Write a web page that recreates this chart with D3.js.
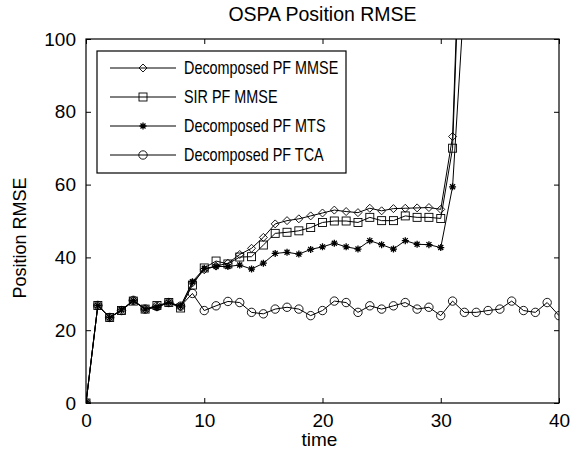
<!DOCTYPE html>
<html>
<head>
<meta charset="utf-8">
<script src="https://cdn.jsdelivr.net/npm/d3@7"></script>
<style>
  html, body { margin: 0; padding: 0; background: #fff; }
  svg { display: block; font-family: "Liberation Sans", Arial, sans-serif; }
</style>
</head>
<body>
<svg id="chart" width="578" height="456"></svg>
<script>
// Time steps and OSPA position RMSE for each filter
const timeSteps = d3.range(0, 41);

const mmseDecomposed = [0, 26.8, 23.5, 25.5, 28.2, 25.8, 26.4, 27.6, 26.5, 33.0, 36.6, 37.6, 38.4, 40.8, 42.5, 45.5, 49.2, 50.1, 50.6, 51.4, 52.2, 53.0, 52.6, 52.3, 53.5, 52.8, 53.4, 53.5, 53.6, 53.7, 53.2, 73.2, 166];
const sirMmse = [0, 26.8, 23.5, 25.4, 28.0, 25.8, 26.8, 27.6, 26.1, 32.4, 37.1, 39.0, 38.2, 40.1, 40.2, 43.4, 46.6, 46.9, 47.3, 48.2, 49.6, 50.0, 50.0, 49.6, 51.0, 50.1, 50.1, 51.4, 51.0, 51.0, 50.7, 70.0, 161];
const mtsDecomposed = [0, 26.8, 23.5, 25.6, 28.1, 25.8, 26.3, 27.6, 26.6, 33.3, 37.0, 37.5, 37.5, 37.9, 36.8, 38.4, 41.1, 41.4, 40.9, 42.2, 42.9, 43.9, 42.9, 42.3, 44.6, 43.5, 42.3, 44.6, 43.6, 43.5, 42.7, 59.4, 112];
const tcaDecomposed = [0, 26.8, 23.5, 25.4, 28.2, 25.8, 26.5, 27.6, 26.6, 30.1, 25.4, 26.7, 27.9, 27.6, 24.9, 24.5, 25.8, 26.3, 25.8, 24.0, 25.4, 28.0, 27.6, 24.9, 26.7, 25.8, 26.7, 27.6, 25.8, 26.3, 24.0, 28.0, 24.9, 24.9, 25.4, 25.8, 28.0, 25.4, 24.9, 27.6, 24.0];

const seriesNames = ["Decomposed PF MMSE", "SIR PF MMSE", "Decomposed PF MTS", "Decomposed PF TCA"];
const seriesMarkers = ["diamond", "square", "star", "circle"];
const seriesValues = [mmseDecomposed, sirMmse, mtsDecomposed, tcaDecomposed];

const xTicks = [0, 10, 20, 30, 40];
const yTicks = [0, 20, 40, 60, 80, 100];

const titleText = "OSPA Position RMSE";
const xLabel = "time";
const yLabel = "Position RMSE";

// Layout
const svg = d3.select("#chart");
const plot = { left: 86, right: 559, top: 39, bottom: 403 };
const legendSquash = 0.8;   // legend entries are set in a narrower face

const x = d3.scaleLinear().domain([0, 40]).range([plot.left, plot.right]);
const y = d3.scaleLinear().domain([0, 100]).range([plot.bottom, plot.top]);

svg.append("defs").append("clipPath").attr("id", "plot-clip")
  .append("rect")
  .attr("x", plot.left).attr("y", plot.top)
  .attr("width", plot.right - plot.left).attr("height", plot.bottom - plot.top);

// Axes: ticks point inward on all four sides (boxed axes)
const tickLen = 5;

svg.append("g")
  .attr("transform", `translate(0,${plot.bottom})`)
  .call(d3.axisBottom(x).tickValues(xTicks).tickSizeInner(-tickLen).tickSizeOuter(0))
  .call(g => g.select(".domain").remove())
  .call(g => g.selectAll(".tick text").attr("y", 24).attr("dy", null));
svg.append("g")
  .attr("transform", `translate(0,${plot.top})`)
  .call(d3.axisTop(x).tickValues(xTicks).tickSizeInner(-tickLen).tickSizeOuter(0).tickFormat(""))
  .call(g => g.select(".domain").remove());
svg.append("g")
  .attr("transform", `translate(${plot.left},0)`)
  .call(d3.axisLeft(y).tickValues(yTicks).tickSizeInner(-tickLen).tickSizeOuter(0))
  .call(g => g.select(".domain").remove())
  .call(g => g.selectAll(".tick text").attr("x", -10));
svg.append("g")
  .attr("transform", `translate(${plot.right},0)`)
  .call(d3.axisRight(y).tickValues(yTicks).tickSizeInner(-tickLen).tickSizeOuter(0).tickFormat(""))
  .call(g => g.select(".domain").remove());

svg.selectAll(".tick line").attr("stroke", "#000");
svg.selectAll(".tick text")
  .attr("fill", "#000")
  .style("font-size", "19px")
  .style("font-family", "Liberation Sans, Arial, sans-serif");

// Plot box
svg.append("rect")
  .attr("x", plot.left).attr("y", plot.top)
  .attr("width", plot.right - plot.left).attr("height", plot.bottom - plot.top)
  .attr("fill", "none").attr("stroke", "#000").attr("stroke-width", 1.2);

// Marker drawing
function drawMarker(g, kind) {
  if (kind === "diamond") {
    g.append("path").attr("d", "M0,-4L4,0L0,4L-4,0Z").attr("fill", "none").attr("stroke", "#000").attr("stroke-width", 0.9);
  } else if (kind === "square") {
    g.append("rect").attr("x", -4).attr("y", -4).attr("width", 8).attr("height", 8)
      .attr("fill", "none").attr("stroke", "#000").attr("stroke-width", 0.9);
  } else if (kind === "circle") {
    g.append("circle").attr("r", 4.2).attr("fill", "none").attr("stroke", "#000").attr("stroke-width", 0.9);
  } else if (kind === "star") {
    g.append("path")
      .attr("d", "M-3.5,0H3.5M0,-3.5V3.5M-2.5,-2.5L2.5,2.5M-2.5,2.5L2.5,-2.5")
      .attr("stroke", "#000").attr("stroke-width", 1.3).attr("fill", "none");
  }
}

const line = d3.line().x((d, i) => x(timeSteps[i])).y(d => y(d));

const dataLayer = svg.append("g").attr("clip-path", "url(#plot-clip)");

seriesValues.forEach((vals, si) => {
  const g = dataLayer.append("g");
  g.append("path")
    .datum(vals)
    .attr("d", line)
    .attr("fill", "none")
    .attr("stroke", "#000")
    .attr("stroke-width", 1);
  vals.forEach((v, i) => {
    if (v > 100) return;
    const m = g.append("g").attr("transform", `translate(${x(timeSteps[i])},${y(v)})`);
    drawMarker(m, seriesMarkers[si]);
  });
});

// Legend
const legend = svg.append("g");
const legendBox = { x: 97, y: 51, w: 249, h: 122 };
legend.append("rect")
  .attr("x", legendBox.x).attr("y", legendBox.y)
  .attr("width", legendBox.w).attr("height", legendBox.h)
  .attr("fill", "#fff").attr("stroke", "#000").attr("stroke-width", 1.2);

const legendY = d3.scalePoint().domain(seriesNames).range([68, 155]);
seriesNames.forEach((name, si) => {
  const cy = legendY(name);
  legend.append("line")
    .attr("x1", 110).attr("x2", 176).attr("y1", cy).attr("y2", cy)
    .attr("stroke", "#000").attr("stroke-width", 1);
  drawMarker(legend.append("g").attr("transform", `translate(143,${cy})`), seriesMarkers[si]);
  legend.append("text")
    .attr("transform", `translate(184,${cy}) scale(${legendSquash},1)`)
    .attr("dy", "0.36em")
    .style("font-size", "18px")
    .text(name);
});

// Title and axis labels
svg.append("text")
  .attr("x", (plot.left + plot.right) / 2).attr("y", 21)
  .attr("text-anchor", "middle")
  .style("font-size", "19.5px")
  .text(titleText);

svg.append("text")
  .attr("x", (plot.left + plot.right) / 2 - 3).attr("y", 446)
  .attr("text-anchor", "middle")
  .style("font-size", "19px")
  .text(xLabel);

svg.append("text")
  .attr("transform", `translate(26,238) rotate(-90)`)
  .attr("text-anchor", "middle")
  .style("font-size", "18px")
  .text(yLabel);
</script>
</body>
</html>
